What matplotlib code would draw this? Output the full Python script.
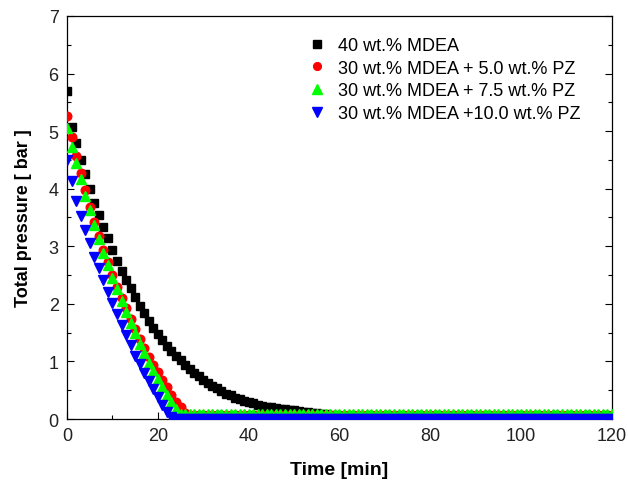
import numpy as np
import matplotlib
matplotlib.use('Agg')
import matplotlib.pyplot as plt
from matplotlib.ticker import MultipleLocator

plt.rcParams['font.family'] = ['Liberation Sans', 'DejaVu Sans']

# time axis, one reading per minute
time_min = np.arange(0, 121)

# total pressure [bar] for each solvent
mdea_40 = [
    5.70, 5.08, 4.79, 4.50, 4.25, 4.00, 3.76, 3.55, 3.34, 3.14,
    2.93, 2.74, 2.57, 2.41, 2.27, 2.12, 1.97, 1.84, 1.70, 1.58,
    1.47, 1.37, 1.27, 1.18, 1.10, 1.02, 0.94, 0.87, 0.80, 0.74,
    0.68, 0.63, 0.58, 0.53, 0.48, 0.44, 0.41, 0.37, 0.35, 0.32,
    0.29, 0.27, 0.25, 0.23, 0.21, 0.20, 0.19, 0.18, 0.17, 0.16,
    0.15, 0.14, 0.13, 0.12, 0.11, 0.10, 0.09, 0.08, 0.07, 0.06,
    0.05, 0.05, 0.04, 0.04, 0.04, 0.03, 0.03, 0.03, 0.03, 0.03,
    0.02, 0.02, 0.02, 0.02, 0.02, 0.02, 0.02, 0.02, 0.02, 0.02,
    0.02, 0.02, 0.02, 0.02, 0.02, 0.02, 0.02, 0.02, 0.02, 0.02,
    0.02, 0.02, 0.02, 0.02, 0.02, 0.02, 0.02, 0.02, 0.02, 0.02,
    0.02, 0.02, 0.02, 0.02, 0.02, 0.02, 0.02, 0.02, 0.02, 0.02,
    0.02, 0.02, 0.02, 0.02, 0.02, 0.02, 0.02, 0.02, 0.02, 0.02,
    0.02,
]
pz_50 = [
    5.27, 4.89, 4.57, 4.27, 3.98, 3.69, 3.43, 3.17, 2.94, 2.72,
    2.50, 2.30, 2.11, 1.92, 1.74, 1.56, 1.39, 1.23, 1.08, 0.94,
    0.81, 0.68, 0.55, 0.42, 0.30, 0.20, 0.11, 0.07, 0.07, 0.07,
    0.07, 0.07, 0.07, 0.07, 0.07, 0.07, 0.07, 0.07, 0.07, 0.07,
    0.07, 0.07, 0.07, 0.07, 0.07, 0.07, 0.07, 0.07, 0.07, 0.07,
    0.07, 0.07, 0.07, 0.07, 0.07, 0.07, 0.07, 0.07, 0.07, 0.07,
    0.07, 0.07, 0.07, 0.07, 0.07, 0.07, 0.07, 0.07, 0.07, 0.07,
    0.07, 0.07, 0.07, 0.07, 0.07, 0.07, 0.07, 0.07, 0.07, 0.07,
    0.07, 0.07, 0.07, 0.07, 0.07, 0.07, 0.07, 0.07, 0.07, 0.07,
    0.07, 0.07, 0.07, 0.07, 0.07, 0.07, 0.07, 0.07, 0.07, 0.07,
    0.07, 0.07, 0.07, 0.07, 0.07, 0.07, 0.07, 0.07, 0.07, 0.07,
    0.07, 0.07, 0.07, 0.07, 0.07, 0.07, 0.07, 0.07, 0.07, 0.07,
    0.07,
]
pz_75 = [
    5.05, 4.72, 4.44, 4.17, 3.88, 3.63, 3.37, 3.13, 2.89, 2.68,
    2.45, 2.25, 2.05, 1.86, 1.67, 1.49, 1.31, 1.14, 0.98, 0.83,
    0.69, 0.55, 0.42, 0.30, 0.18, 0.09, 0.09, 0.09, 0.09, 0.09,
    0.09, 0.09, 0.09, 0.09, 0.09, 0.09, 0.09, 0.09, 0.09, 0.09,
    0.09, 0.09, 0.09, 0.09, 0.09, 0.09, 0.09, 0.09, 0.09, 0.09,
    0.09, 0.09, 0.09, 0.09, 0.09, 0.09, 0.09, 0.09, 0.09, 0.09,
    0.09, 0.09, 0.09, 0.09, 0.09, 0.09, 0.09, 0.09, 0.09, 0.09,
    0.09, 0.09, 0.09, 0.09, 0.09, 0.09, 0.09, 0.09, 0.09, 0.09,
    0.09, 0.09, 0.09, 0.09, 0.09, 0.09, 0.09, 0.09, 0.09, 0.09,
    0.09, 0.09, 0.09, 0.09, 0.09, 0.09, 0.09, 0.09, 0.09, 0.09,
    0.09, 0.09, 0.09, 0.09, 0.09, 0.09, 0.09, 0.09, 0.09, 0.09,
    0.09, 0.09, 0.09, 0.09, 0.09, 0.09, 0.09, 0.09, 0.09, 0.09,
    0.09,
]
pz_100 = [
    4.50, 4.14, 3.79, 3.53, 3.29, 3.06, 2.82, 2.62, 2.41, 2.21,
    2.02, 1.83, 1.64, 1.46, 1.28, 1.10, 0.95, 0.80, 0.66, 0.52,
    0.39, 0.25, 0.12, 0.03, 0.00, 0.00, 0.00, 0.00, 0.00, 0.00,
    0.00, 0.00, 0.00, 0.00, 0.00, 0.00, 0.00, 0.00, 0.00, 0.00,
    0.00, 0.00, 0.00, 0.00, 0.00, 0.00, 0.00, 0.00, 0.00, 0.00,
    0.00, 0.00, 0.00, 0.00, 0.00, 0.00, 0.00, 0.00, 0.00, 0.00,
    0.00, 0.00, 0.00, 0.00, 0.00, 0.00, 0.00, 0.00, 0.00, 0.00,
    0.00, 0.00, 0.00, 0.00, 0.00, 0.00, 0.00, 0.00, 0.00, 0.00,
    0.00, 0.00, 0.00, 0.00, 0.00, 0.00, 0.00, 0.00, 0.00, 0.00,
    0.00, 0.00, 0.00, 0.00, 0.00, 0.00, 0.00, 0.00, 0.00, 0.00,
    0.00, 0.00, 0.00, 0.00, 0.00, 0.00, 0.00, 0.00, 0.00, 0.00,
    0.00, 0.00, 0.00, 0.00, 0.00, 0.00, 0.00, 0.00, 0.00, 0.00,
    0.00,
]

labels = [
    '40 wt.% MDEA',
    '30 wt.% MDEA + 5.0 wt.% PZ',
    '30 wt.% MDEA + 7.5 wt.% PZ',
    '30 wt.% MDEA +10.0 wt.% PZ',
]

fig = plt.figure(figsize=(6.28, 4.85), dpi=100)
ax = fig.add_axes([0.1067, 0.134, 0.8678, 0.831])

# black at the back; the blue baseline stays visible under the green row
ax.plot(time_min, mdea_40, linestyle='none', marker='s', ms=6.2,
        color='black', label=labels[0], zorder=2)
ax.plot(time_min, pz_50, linestyle='none', marker='o', ms=6.2,
        color='#ff0000', label=labels[1], zorder=3)
ax.plot(time_min, pz_75, linestyle='none', marker='^', ms=7.8,
        color='#00ff00', label=labels[2], zorder=4)
ax.plot(time_min, pz_100, linestyle='none', marker='v', ms=7.8,
        color='#0000ff', label=labels[3], zorder=5)

ax.set_xlim(0, 120)
ax.set_ylim(0, 7)
ax.xaxis.set_major_locator(MultipleLocator(20))
ax.xaxis.set_minor_locator(MultipleLocator(10))
ax.yaxis.set_major_locator(MultipleLocator(1))
ax.yaxis.set_minor_locator(MultipleLocator(0.5))
ax.tick_params(which='both', direction='in', right=True, top=False,
               width=0.8, labelsize=13, labelcolor='#222222', pad=6)
ax.tick_params(which='major', length=5)
ax.tick_params(which='minor', length=3)
for s in ax.spines.values():
    s.set_linewidth(0.9)

ax.set_xlabel('Time [min]', fontsize=14, fontweight='bold', labelpad=12)
ax.set_ylabel('Total pressure [ bar ]', fontsize=13, fontweight='bold', labelpad=12)

ax.legend(loc='upper left', bbox_to_anchor=(0.443, 0.948), frameon=False,
          fontsize=13, handlelength=1.0, handletextpad=0.65,
          labelspacing=0.32, numpoints=1, markerscale=0.9,
          borderaxespad=0, borderpad=0)

fig.savefig('out.png', dpi=100)
